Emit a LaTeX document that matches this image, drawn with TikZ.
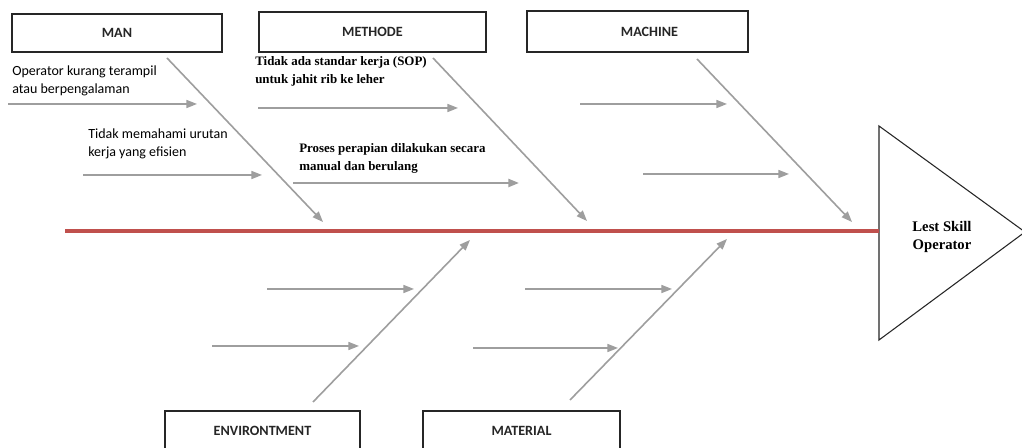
\documentclass[tikz,border=0pt]{standalone}
\usepackage{fontspec}
\setmainfont{Liberation Serif}
\newfontfamily\calibri{Carlito}
\usetikzlibrary{positioning,arrows.meta}
\definecolor{spinered}{RGB}{192,80,77}
\definecolor{bonegray}{RGB}{158,158,158}

\tikzset{
  catbox/.style={draw=black!85, line width=1.1pt, fill=white, inner sep=0pt,
    font=\calibri\bfseries\fontsize{10.6}{12}\selectfont, text=black!85},
  bone/.style={bonegray, line width=1.2pt, -{Triangle[length=8pt,width=6pt]}},
  causesans/.style={anchor=north west, inner sep=0pt, align=left,
    font=\calibri\fontsize{10.5}{13.5}\selectfont},
  causeserif/.style={anchor=north west, inner sep=0pt, align=left,
    font=\bfseries\fontsize{9.7}{13.5}\selectfont}
}

\begin{document}
\begin{tikzpicture}[x=0.75pt,y=-0.75pt]
  \clip (0,0) rectangle (1022,448);
  \fill[white] (0,0) rectangle (1022,448);

  % ── Head ──
  \coordinate (headT) at (879,126);
  \coordinate (headB) at (879,340);
  \coordinate (headA) at (1025,232);
  \draw[black!85, line width=0.8pt] (headT) -- (headA) -- (headB) -- cycle;
  \node[font=\bfseries\fontsize{11}{13}\selectfont, align=center] (head) at (942,237) {Lest Skill\\Operator};

  % ── Spine ──
  \coordinate (tail) at (65,231);
  \coordinate (spineE) at (879,231);
  \draw[spinered, line width=2.6pt] (tail) -- (spineE);

  % ── Category boxes ──
  \node[catbox, minimum width=157.5pt, minimum height=28.5pt] (man) at (117,33) {MAN};
  \node[catbox, minimum width=170pt, minimum height=30pt] (methode) at (372.5,32) {METHODE};
  \node[catbox, minimum width=166pt, minimum height=31pt] (machine) at (637.5,31.5) {\hspace*{18pt}MACHINE};
  \node[catbox, minimum width=146pt, minimum height=30pt] (environtment) at (262.5,431) {ENVIRONTMENT};
  \node[catbox, minimum width=148pt, minimum height=30pt] (material) at (521.5,431) {MATERIAL};

  % ── Main bones ──
  \coordinate (manS) at (167,58);      \coordinate (manE) at (323,222);
  \coordinate (metS) at (433,58);      \coordinate (metE) at (587,221);
  \coordinate (macS) at (697,59);      \coordinate (macE) at (852,222);
  \coordinate (envS) at (313,402);     \coordinate (envE) at (470,240);
  \coordinate (matS) at (570,400);     \coordinate (matE) at (727,239);
  \draw[bone] (manS) -- (manE);
  \draw[bone] (metS) -- (metE);
  \draw[bone] (macS) -- (macE);
  \draw[bone] (envS) -- (envE);
  \draw[bone] (matS) -- (matE);

  % ── Sub causes ──
  \coordinate (man1S) at (8,104);      \coordinate (man1E) at (197,104);
  \coordinate (man2S) at (83,175);     \coordinate (man2E) at (262,175);
  \coordinate (met1S) at (258,108);    \coordinate (met1E) at (458,108);
  \coordinate (met2S) at (293,183);    \coordinate (met2E) at (519,183);
  \coordinate (mac1S) at (580,104);    \coordinate (mac1E) at (727,104);
  \coordinate (mac2S) at (643,174);    \coordinate (mac2E) at (789,174);
  \coordinate (env1S) at (267,289);    \coordinate (env1E) at (414,289);
  \coordinate (env2S) at (212,346);    \coordinate (env2E) at (359,346);
  \coordinate (mat1S) at (525,289);    \coordinate (mat1E) at (672,289);
  \coordinate (mat2S) at (473,348);    \coordinate (mat2E) at (618,348);
  \draw[bone] (man1S) -- (man1E);
  \draw[bone] (man2S) -- (man2E);
  \draw[bone] (met1S) -- (met1E);
  \draw[bone, line width=1.6pt] (met2S) -- (met2E);
  \draw[bone] (mac1S) -- (mac1E);
  \draw[bone] (mac2S) -- (mac2E);
  \draw[bone] (env1S) -- (env1E);
  \draw[bone] (env2S) -- (env2E);
  \draw[bone] (mat1S) -- (mat1E);
  \draw[bone] (mat2S) -- (mat2E);

  % ── Cause labels ──
  \node[causesans] (manT1) at (12,66) {Operator kurang terampil\\atau berpengalaman};
  \node[causesans] (manT2) at (88,129) {Tidak memahami urutan\\kerja yang efisien};
  \node[causeserif] (metT1) at (255,56) {Tidak ada standar kerja (SOP)\\untuk jahit rib ke leher};
  \node[causeserif] (metT2) at (299,143) {Proses perapian dilakukan secara\\manual dan berulang};
\end{tikzpicture}
\end{document}
